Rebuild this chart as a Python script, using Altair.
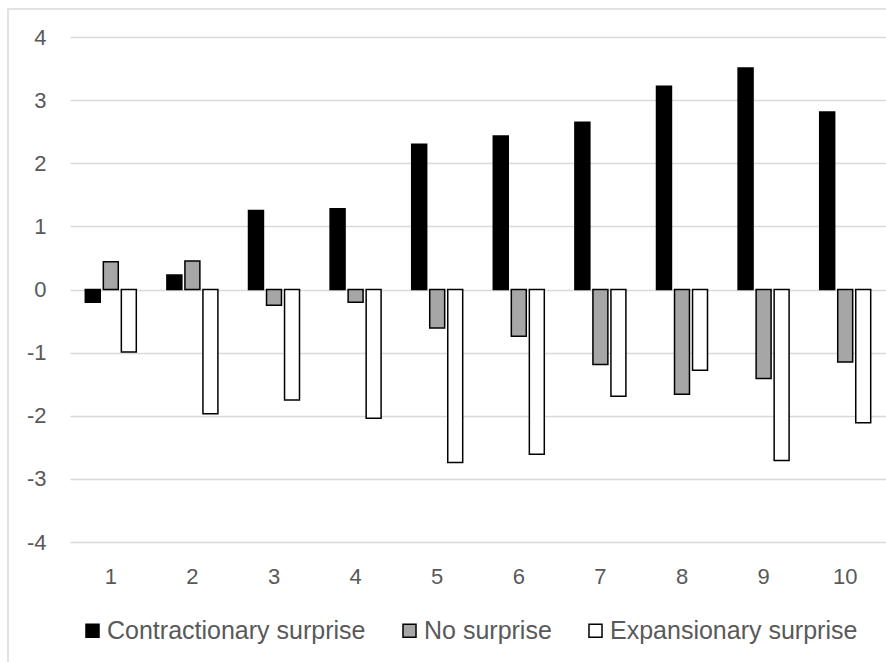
import altair as alt
import pandas as pd

categories = [1, 2, 3, 4, 5, 6, 7, 8, 9, 10]
series_names = ["Contractionary surprise", "No surprise", "Expansionary surprise"]
contractionary = [-0.20, 0.23, 1.25, 1.28, 2.30, 2.43, 2.65, 3.22, 3.51, 2.81]
no_surprise = [0.44, 0.45, -0.25, -0.20, -0.61, -0.74, -1.19, -1.66, -1.41, -1.15]
expansionary = [-0.99, -1.97, -1.75, -2.04, -2.74, -2.61, -1.69, -1.28, -2.71, -2.11]
y_ticks = [-4, -3, -2, -1, 0, 1, 2, 3, 4]

rows = []
for i, c in enumerate(categories):
    for s, vals in zip(series_names, [contractionary, no_surprise, expansionary]):
        rows.append({"cat": str(c), "series": s, "value": vals[i]})
df = pd.DataFrame(rows)

font = "Liberation Sans"
text_color = "#595959"
grid_color = "#d9d9d9"

bars = alt.Chart(df).mark_bar(stroke="black", strokeWidth=1.5).encode(
    x=alt.X(
        "cat:N",
        sort=[str(c) for c in categories],
        title=None,
        scale=alt.Scale(paddingInner=0.375, paddingOuter=0.1875),
        axis=alt.Axis(labelAngle=0, domain=False, ticks=False, grid=False,
                      labelPadding=24, labelFontSize=22, labelColor=text_color,
                      labelFont=font),
    ),
    xOffset=alt.XOffset("series:N", sort=series_names,
                        scale=alt.Scale(paddingInner=0.17, paddingOuter=0)),
    y=alt.Y(
        "value:Q",
        title=None,
        stack=None,
        scale=alt.Scale(domain=[-4, 4], nice=False, zero=False),
        axis=alt.Axis(values=y_ticks, domain=False, ticks=False, grid=True,
                      gridColor=grid_color, gridWidth=1.5, labelPadding=24,
                      labelFontSize=22, labelColor=text_color, labelFont=font,
                      labelExpr="'' + datum.value"),
    ),
    y2=alt.datum(0),
    color=alt.Color(
        "series:N",
        sort=series_names,
        scale=alt.Scale(domain=series_names, range=["#000000", "#a6a6a6", "#ffffff"]),
        legend=alt.Legend(
            title=None, orient="none", legendX=10, legendY=581,
            direction="horizontal", symbolType="square", symbolSize=170,
            symbolStrokeColor="black", symbolStrokeWidth=1.5,
            labelFontSize=25, labelColor=text_color, labelFont=font,
            labelLimit=0, columnPadding=31, labelOffset=2,
        ),
    ),
)

border = alt.Chart(pd.DataFrame({"k": [0]})).mark_rect(
    fill="transparent", stroke=grid_color, strokeWidth=1.5
).encode(
    x=alt.value(-62), x2=alt.value(840), y=alt.value(-28), y2=alt.value(650)
)

chart = alt.layer(border, bars).properties(
    width=816,
    height=505,
    padding={"left": 70, "top": 37, "right": 0, "bottom": 120},
    autosize=alt.AutoSizeParams(type="none"),
    background="white",
).configure_view(stroke="transparent")

chart.save("out.html", embed_options={"renderer": "svg", "actions": False})
